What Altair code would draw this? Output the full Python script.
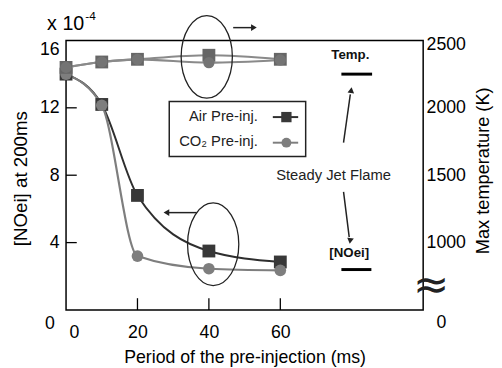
import altair as alt
import pandas as pd

# ---- values ----
period = [0, 10, 20, 40, 60]
no_air = [14.0, 12.2, 6.8, 3.5, 2.85]        # [NOei] (x1e-4), air pre-injection
no_co2 = [14.0, 12.15, 3.2, 2.45, 2.35]      # [NOei] (x1e-4), CO2 pre-injection
temp_air = [2300, 2340, 2360, 2390, 2360]    # max temperature (K), air
temp_co2 = [2300, 2340, 2360, 2335, 2355]    # max temperature (K), CO2
steady_no = 2.4                              # steady jet flame [NOei]
steady_temp = 2250                           # steady jet flame temperature

x_tick_values = [0, 20, 40, 60]
no_tick_values = [0, 4, 8, 12, 16]
temp_tick_values = [500, 1000, 1500, 2000, 2500]
x_inner_ticks = [20, 40, 60]
y_inner_ticks = [4, 8, 12]

legend_labels = ["Air Pre-inj.", "CO\u2082 Pre-inj."]

FONT = "Liberation Sans"
DARK = "#2e2e2e"
GREY = "#7e7e7e"
TGREY = "#666666"
TLINE = "#8a8a8a"

XS = alt.Scale(domain=[0, 100], nice=False, zero=False)
NS = alt.Scale(domain=[0, 16], nice=False, zero=False)
TS = alt.Scale(domain=[500, 2500], nice=False, zero=False)

df = pd.DataFrame({"period": period, "no_air": no_air, "no_co2": no_co2,
                   "t_air": temp_air, "t_co2": temp_co2})

x_axis = alt.Axis(values=x_tick_values, title="Period of the pre-injection (ms)",
                  grid=False, domain=False, ticks=False, labelFontSize=18,
                  labelFont=FONT, labelColor="black", labelPadding=14,
                  labelOffset={"condition": {"test": "datum.value == 0", "value": 3}, "value": 0},
                  titleFont=FONT, titleFontSize=18, titleFontWeight="normal",
                  titleColor="black", titlePadding=7)

y_axis = alt.Axis(orient="left", values=no_tick_values, title="[NOei] at 200ms", grid=False,
                  domain=False, ticks=False, labelFontSize=18, labelFont=FONT,
                  labelColor="black",
                  labelPadding={"condition": {"test": "datum.value == 0", "value": 12}, "value": 7},
                  labelOffset={"condition": [{"test": "datum.value == 0", "value": 14},
                                             {"test": "datum.value == 16", "value": 9}], "value": 0},
                  titleFont=FONT, titleFontSize=19, titleFontWeight="normal",
                  titleColor="black", titleAngle=270, titleAlign="center",
                  titleBaseline="middle", titleX=-46, titleY=140)

t_axis = alt.Axis(orient="right", values=temp_tick_values, format="d",
                  labelExpr="datum.value == 500 ? '0' : datum.label",
                  title="Max temperature (K)", grid=False, domain=False, ticks=False,
                  labelFontSize=18, labelFont=FONT, labelColor="black",
                  labelPadding={"condition": {"test": "datum.value == 500", "value": 13}, "value": 3},
                  labelOffset={"condition": [{"test": "datum.value == 500", "value": 13},
                                             {"test": "datum.value == 2500", "value": 4}], "value": 0},
                  titleFont=FONT, titleFontSize=18.5, titleFontWeight="normal",
                  titleColor="black", titleAngle=270, titleAlign="center",
                  titleBaseline="alphabetic", titleX=66, titleY=132)


def xq(field, axis=None):
    return alt.X(field, type="quantitative", scale=XS, axis=axis)


def yn(field, axis=None):
    return alt.Y(field, type="quantitative", scale=NS, axis=axis)


def yt(field, axis=None):
    return alt.Y(field, type="quantitative", scale=TS, axis=axis)


# ---------- left (NO) group ----------
no_air_line = alt.Chart(df).mark_line(color=DARK, strokeWidth=2, interpolate="monotone").encode(
    x=xq("period", x_axis), y=yn("no_air", y_axis))
no_co2_line = alt.Chart(df).mark_line(color=GREY, strokeWidth=2.2, interpolate="monotone").encode(
    x=xq("period"), y=yn("no_co2"))
no_air_pts = alt.Chart(df).mark_point(shape="square", filled=True, size=170, color="#383838",
                                       opacity=1).encode(x=xq("period"), y=yn("no_air"))
no_co2_pts = alt.Chart(df).mark_point(shape="circle", filled=True, size=140, color=GREY,
                                       opacity=1).encode(x=xq("period"), y=yn("no_co2"))

xt = pd.DataFrame({"x": x_inner_ticks, "y0": [0] * 3, "y1": [0.7] * 3})
x_ticks = alt.Chart(xt).mark_rule(color="black", strokeWidth=1.3).encode(
    x=xq("x"), y=yn("y0"), y2="y1")
ytk = pd.DataFrame({"y": y_inner_ticks, "x0": [0] * 3, "x1": [3.0] * 3})
y_ticks = alt.Chart(ytk).mark_rule(color="black", strokeWidth=1.3).encode(
    x=xq("x0"), x2="x1", y=yn("y"))

# legend box
lbox = pd.DataFrame({"x0": [28.9], "x1": [67.1], "y0": [9.11], "y1": [12.38]})
legend_box = alt.Chart(lbox).mark_rect(fill="white", stroke="#222", strokeWidth=1.5).encode(
    x=xq("x0"), x2="x1", y=yn("y0"), y2="y1")
lline = pd.DataFrame({"x0": [57.9, 57.9], "x1": [65.0, 65.0], "y": [11.45, 9.93],
                      "c": ["air", "co2"]})
legend_lines = alt.Chart(lline).mark_rule(strokeWidth=2).encode(
    x=xq("x0"), x2="x1", y=yn("y"),
    color=alt.Color("c:N", scale=alt.Scale(domain=["air", "co2"], range=[DARK, GREY]), legend=None))
lsym = pd.DataFrame({"x": [61.7], "y": [11.45]})
legend_sq = alt.Chart(lsym).mark_point(shape="square", filled=True, size=110, color="#383838",
                                       opacity=1).encode(x=xq("x"), y=yn("y"))
lcir = pd.DataFrame({"x": [61.7], "y": [9.93]})
legend_ci = alt.Chart(lcir).mark_point(shape="circle", filled=True, size=100, color=GREY,
                                       opacity=1).encode(x=xq("x"), y=yn("y"))
ltxt = pd.DataFrame({"x": [53.7, 53.7], "y": [11.5, 10.0], "t": legend_labels})
legend_txt = alt.Chart(ltxt).mark_text(align="right", baseline="middle", font=FONT,
                                       fontSize=15, color="#222").encode(
    x=xq("x"), y=yn("y"), text="t:N")

# arrows (shafts + heads)
shafts = pd.DataFrame({"x0": [46.8, 36.6, 77.7, 77.7], "x1": [52.0, 28.8, 79.6, 79.3],
                       "y0": [16.76, 5.78, 9.93, 7.01], "y1": [16.76, 5.78, 12.8, 4.32]})
arrow_shafts = alt.Chart(shafts).mark_rule(color="#222", strokeWidth=1.5).encode(
    x=xq("x0"), x2="x1", y=yn("y0"), y2="y1")
heads = pd.DataFrame({"x": [52.6, 28.1, 79.85, 79.55], "y": [16.76, 5.78, 13.05, 4.1],
                      "a": [90, 270, 8, 188]})
arrow_heads = alt.Chart(heads).mark_point(shape="triangle-up", filled=True, size=45,
                                          color="#222", opacity=1).encode(
    x=xq("x"), y=yn("y"), angle=alt.Angle("a:Q", scale=None))

ELLIPSE = ("M0,-1C0.342,-1,0.62,-0.552,0.62,0C0.62,0.552,0.342,1,0,1"
           "C-0.342,1,-0.62,0.552,-0.62,0C-0.62,-0.552,-0.342,-1,0,-1Z")
ell_b = pd.DataFrame({"x": [41.2], "y": [3.9]})
ellipse_bottom = alt.Chart(ell_b).mark_point(shape=ELLIPSE, size=7056, filled=False,
                                             color="#222", strokeWidth=1.3, opacity=1).encode(
    x=xq("x"), y=yn("y"))

sno = pd.DataFrame({"x0": [77.1], "x1": [85.5], "y": [steady_no]})
steady_no_line = alt.Chart(sno).mark_rule(color="black", strokeWidth=3).encode(
    x=xq("x0"), x2="x1", y=yn("y"))

btxt = pd.DataFrame({"x": [79.6, 79.3], "y": [15.12, 3.39], "t": ["Temp.", "[NOei]"]})
bold_txt = alt.Chart(btxt).mark_text(font=FONT, fontSize=13.5, fontWeight="bold",
                                     baseline="middle", color="#111").encode(
    x=xq("x"), y=yn("y"), text="t:N")
stxt = pd.DataFrame({"x": [74.9], "y": [8.0], "t": ["Steady Jet Flame"]})
steady_txt = alt.Chart(stxt).mark_text(font=FONT, fontSize=15, baseline="middle",
                                       color="#222").encode(
    x=xq("x"), y=yn("y"), text="t:N")

mtxt = pd.DataFrame({"x": [-5.3], "y": [16.95], "t": ["x 10"]})
mult_txt = alt.Chart(mtxt).mark_text(font=FONT, fontSize=20, align="left", baseline="middle",
                                     color="black").encode(x=xq("x"), y=yn("y"), text="t:N")
etxt = pd.DataFrame({"x": [5.4], "y": [17.45], "t": ["-4"]})
exp_txt = alt.Chart(etxt).mark_text(font=FONT, fontSize=12, align="left", baseline="middle",
                                    color="black").encode(x=xq("x"), y=yn("y"), text="t:N")

brk = pd.DataFrame({"x": [102.2], "y": [1.4], "t": ["\u2248"]})
break_sym = alt.Chart(brk).mark_text(font="DejaVu Sans", fontSize=44, baseline="middle",
                                     color="#222").encode(x=xq("x"), y=yn("y"), text="t:N")

left = alt.layer(no_air_line, no_co2_line, no_air_pts, no_co2_pts, x_ticks, y_ticks,
                 legend_box, legend_lines, legend_sq, legend_ci, legend_txt,
                 arrow_shafts, arrow_heads, ellipse_bottom, steady_no_line,
                 bold_txt, steady_txt, mult_txt, exp_txt, break_sym
                 ).resolve_axis(x="independent", y="independent")

# ---------- right (temperature) group ----------
t_air_line = alt.Chart(df).mark_line(color=TLINE, strokeWidth=2.2, interpolate="monotone").encode(
    x=xq("period"), y=yt("t_air", t_axis))
t_co2_line = alt.Chart(df).mark_line(color=TLINE, strokeWidth=2.2, interpolate="monotone").encode(
    x=xq("period"), y=yt("t_co2"))
t_air_pts = alt.Chart(df).mark_point(shape="square", filled=True, size=170, color=TGREY,
                                      opacity=1).encode(x=xq("period"), y=yt("t_air"))
t_co2_pts = alt.Chart(df).mark_point(shape="circle", filled=True, size=130, color="#747474",
                                      opacity=1).encode(x=xq("period"), y=yt("t_co2"))
ell_t = pd.DataFrame({"x": [39.4], "y": [2378]})
ellipse_top = alt.Chart(ell_t).mark_point(shape=ELLIPSE, size=7056, filled=False,
                                          color="#222", strokeWidth=1.3, opacity=1).encode(
    x=xq("x"), y=yt("y"))
stt = pd.DataFrame({"x0": [77.1], "x1": [85.7], "y": [steady_temp]})
steady_t_line = alt.Chart(stt).mark_rule(color="black", strokeWidth=3).encode(
    x=xq("x0"), x2="x1", y=yt("y"))

right = alt.layer(t_air_line, t_co2_line, t_air_pts, t_co2_pts, ellipse_top, steady_t_line
                  ).resolve_axis(x="independent", y="independent")

chart = alt.layer(left, right).resolve_scale(y="independent").resolve_axis(
    x="independent", y="independent").properties(
    width=363, height=274,
    autosize=alt.AutoSizeParams(type="none"),
    padding={"left": 59, "top": 30, "right": 72, "bottom": 56},
    background="white",
).configure_view(stroke="black", strokeWidth=1.5)

chart.save("out.html", embed_options={"renderer": "svg", "actions": False})
